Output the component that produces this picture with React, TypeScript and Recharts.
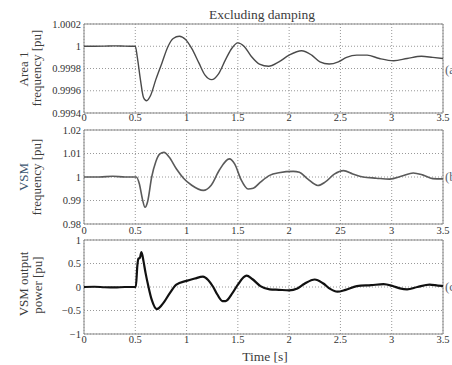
import { LineChart, Line, XAxis, YAxis, CartesianGrid, ReferenceArea } from 'recharts'

// x axis ticks shared by all three panels
const timeTicks = [0, 0.5, 1, 1.5, 2, 2.5, 3, 3.5]
const timeLabels = ['0', '0.5', '1', '1.5', '2', '2.5', '3', '3.5']
// the middle panel prints "25" in the original
const timeLabelsMid = ['0', '0.5', '1', '1.5', '2', '25', '3', '3.5']

// (a) Area 1 frequency
const area1Time = [0, 0.1, 0.2, 0.3, 0.4, 0.5, 0.52, 0.55, 0.58, 0.61, 0.65, 0.7, 0.76, 0.82, 0.87, 0.93, 0.99, 1.05, 1.12, 1.18, 1.245, 1.31, 1.38, 1.44, 1.5, 1.56, 1.63, 1.71, 1.8, 1.9, 2.0, 2.12, 2.22, 2.3, 2.39, 2.48, 2.56, 2.66, 2.76, 2.88, 3.02, 3.15, 3.29, 3.4, 3.5]
const area1Freq = [1.0, 1.0, 1.000001, 1.000003, 1.000001, 1.0, 0.9999, 0.9997, 0.99954, 0.99951, 0.99956, 0.9997, 0.99985, 1.0, 1.00007, 1.00009, 1.00006, 0.99998, 0.99985, 0.99974, 0.9997, 0.99975, 0.99988, 0.99998, 1.00003, 1.0, 0.99991, 0.99984, 0.99982, 0.99986, 0.99992, 0.99996, 0.99992, 0.99986, 0.99984, 0.99986, 0.9999, 0.99992, 0.99992, 0.99989, 0.99987, 0.99989, 0.99991, 0.9999, 0.99989]
const area1Ticks = [0.9994, 0.9996, 0.9998, 1, 1.0002]

// (b) VSM frequency
const vsmTime = [0, 0.15, 0.28, 0.4, 0.51, 0.54, 0.57, 0.595, 0.62, 0.66, 0.7, 0.74, 0.78, 0.83, 0.9, 0.97, 1.05, 1.163, 1.24, 1.32, 1.417, 1.47, 1.53, 1.6, 1.65, 1.72, 1.81, 1.9, 2.04, 2.1, 2.18, 2.28, 2.35, 2.44, 2.53, 2.62, 2.72, 2.85, 2.98, 3.1, 3.21, 3.3, 3.4, 3.5]
const vsmFreq = [1.0, 1.0, 1.0003, 1.0, 1.0, 0.997, 0.9905, 0.9871, 0.9895, 1.0, 1.0065, 1.0098, 1.0105, 1.0085, 1.0035, 0.9995, 0.9965, 0.9943, 0.9965, 1.003, 1.0077, 1.0055, 0.999, 0.9949, 0.9952, 0.9978, 1.0007, 1.0018, 1.0024, 1.002, 0.9992, 0.9964, 0.9978, 1.0012, 1.0027, 1.0013, 1.0, 0.9995, 0.9991, 1.0004, 1.0017, 1.0009, 0.9993, 0.9992]
const vsmTicks = [0.98, 0.99, 1, 1.01, 1.02]

// (c) VSM output power
const powerTime = [0, 0.1, 0.2, 0.3, 0.4, 0.505, 0.52, 0.53, 0.545, 0.56, 0.58, 0.6, 0.627, 0.66, 0.71, 0.76, 0.84, 0.9, 1.0, 1.08, 1.16, 1.21, 1.26, 1.3, 1.35, 1.38, 1.45, 1.5, 1.585, 1.64, 1.72, 1.81, 1.9, 2.0, 2.08, 2.15, 2.25, 2.33, 2.4, 2.47, 2.55, 2.66, 2.8, 2.92, 3.01, 3.08, 3.15, 3.25, 3.37, 3.45, 3.5]
const powerOut = [0, 0.005, -0.005, -0.01, 0, 0, 0.45, 0.6, 0.62, 0.74, 0.55, 0.3, 0.02, -0.27, -0.47, -0.38, -0.12, 0.05, 0.13, 0.18, 0.22, 0.15, 0, -0.16, -0.3, -0.3, -0.12, 0.05, 0.24, 0.17, 0.02, -0.05, -0.06, -0.07, -0.03, 0.07, 0.16, 0.08, -0.04, -0.1, -0.06, 0.02, 0.04, 0.06, 0.02, -0.03, -0.05, 0, 0.05, 0.03, 0.02]
const powerTicks = [-1, -0.5, 0, 0.5, 1]

const area1Data = area1Time.map((t, i) => ({ t, v: area1Freq[i] }))
const vsmData = vsmTime.map((t, i) => ({ t, v: vsmFreq[i] }))
const powerData = powerTime.map((t, i) => ({ t, v: powerOut[i] }))

const FONT = '"Liberation Serif", "DejaVu Serif", serif'
const tickStyle = { fontSize: 10.5, fill: '#333', fontFamily: FONT }

const fmtMinus = (v: number) => (v < 0 ? '\u2212' + String(-v) : String(v))

type PanelProps = {
    data: { t: number; v: number }[]
    top: number
    height: number
    marginTop: number
    xAxisHeight: number
    xTickMargin: number
    xLabels: string[]
    yTicks: number[]
    yFormat: (v: number) => string
    stroke: string
    strokeWidth: number
}

function Panel(p: PanelProps) {
    const yMin = p.yTicks[0]
    const yMax = p.yTicks[p.yTicks.length - 1]
    return (
        <div style={{ position: 'absolute', left: 0, top: p.top }}>
            <LineChart
                width={452}
                height={p.height}
                data={p.data}
                margin={{ top: p.marginTop, right: 9, left: 0, bottom: 0 }}
            >
                <CartesianGrid stroke="#999" strokeDasharray="1 2" verticalPoints={undefined} />
                <XAxis
                    dataKey="t"
                    type="number"
                    domain={[0, 3.5]}
                    ticks={timeTicks}
                    tickFormatter={(v: number) => p.xLabels[timeTicks.indexOf(v)] ?? String(v)}
                    axisLine={false}
                    tickLine={false}
                    tickSize={0}
                    tickMargin={p.xTickMargin}
                    height={p.xAxisHeight}
                    tick={tickStyle}
                    interval={0}
                />
                <YAxis
                    type="number"
                    domain={[yMin, yMax]}
                    ticks={p.yTicks}
                    tickFormatter={p.yFormat}
                    axisLine={false}
                    tickLine={false}
                    tickSize={0}
                    tickMargin={3}
                    width={84}
                    tick={tickStyle}
                    interval={0}
                />
                <ReferenceArea x1={0} x2={3.5} y1={yMin} y2={yMax} fill="none" stroke="#8a8a8a" strokeWidth={1} />
                <Line
                    type="monotone"
                    dataKey="v"
                    stroke={p.stroke}
                    strokeWidth={p.strokeWidth}
                    dot={false}
                    isAnimationActive={false}
                />
            </LineChart>
        </div>
    )
}

export default function App() {
    return (
        <div
            style={{
                position: 'absolute',
                left: 0,
                top: 0,
                width: 452,
                height: 365,
                overflow: 'hidden',
                background: '#fff',
            }}
        >
            <Panel
                data={area1Data}
                top={0}
                height={125}
                marginTop={24}
                xAxisHeight={12}
                xTickMargin={1}
                xLabels={timeLabels}
                yTicks={area1Ticks}
                yFormat={(v) => (v === 1 ? '1' : v.toFixed(4))}
                stroke="#4a4a4a"
                strokeWidth={1.4}
            />
            <Panel
                data={vsmData}
                top={125}
                height={112}
                marginTop={5}
                xAxisHeight={13}
                xTickMargin={3}
                xLabels={timeLabelsMid}
                yTicks={vsmTicks}
                yFormat={(v) => (v === 1 ? '1' : v.toFixed(2))}
                stroke="#5a5a5a"
                strokeWidth={1.6}
            />
            <Panel
                data={powerData}
                top={235}
                height={125}
                marginTop={5}
                xAxisHeight={26}
                xTickMargin={2}
                xLabels={timeLabels}
                yTicks={powerTicks}
                yFormat={fmtMinus}
                stroke="#111"
                strokeWidth={2.2}
            />
            <svg
                width={452}
                height={365}
                style={{ position: 'absolute', left: 0, top: 0, pointerEvents: 'none' }}
                fontFamily={FONT}
                fill="#3c3c3c"
            >
                <text x={262} y={19} textAnchor="middle" fontSize={13.5}>Excluding damping</text>
                <text x={265} y={361} textAnchor="middle" fontSize={13.5}>Time [s]</text>

                <text transform="translate(28,69) rotate(-90)" textAnchor="middle" fontSize={13}>Area 1</text>
                <text transform="translate(41,68) rotate(-90)" textAnchor="middle" fontSize={13}>frequency [pu]</text>

                <text transform="translate(28,177) rotate(-90)" textAnchor="middle" fontSize={13} fill="#3d5670">VSM</text>
                <text transform="translate(41,177) rotate(-90)" textAnchor="middle" fontSize={13}>frequency [pu]</text>

                <text transform="translate(28,284) rotate(-90)" textAnchor="middle" fontSize={13}>VSM output</text>
                <text transform="translate(42,285) rotate(-90)" textAnchor="middle" fontSize={13}>power [pu]</text>

                <text x={445} y={74} fontSize={13} fill="#5a6470">(a)</text>
                <text x={445} y={181} fontSize={13} fill="#5a6470">(b)</text>
                <text x={445} y={291} fontSize={13} fill="#5a6470">(c)</text>
            </svg>
        </div>
    )
}
